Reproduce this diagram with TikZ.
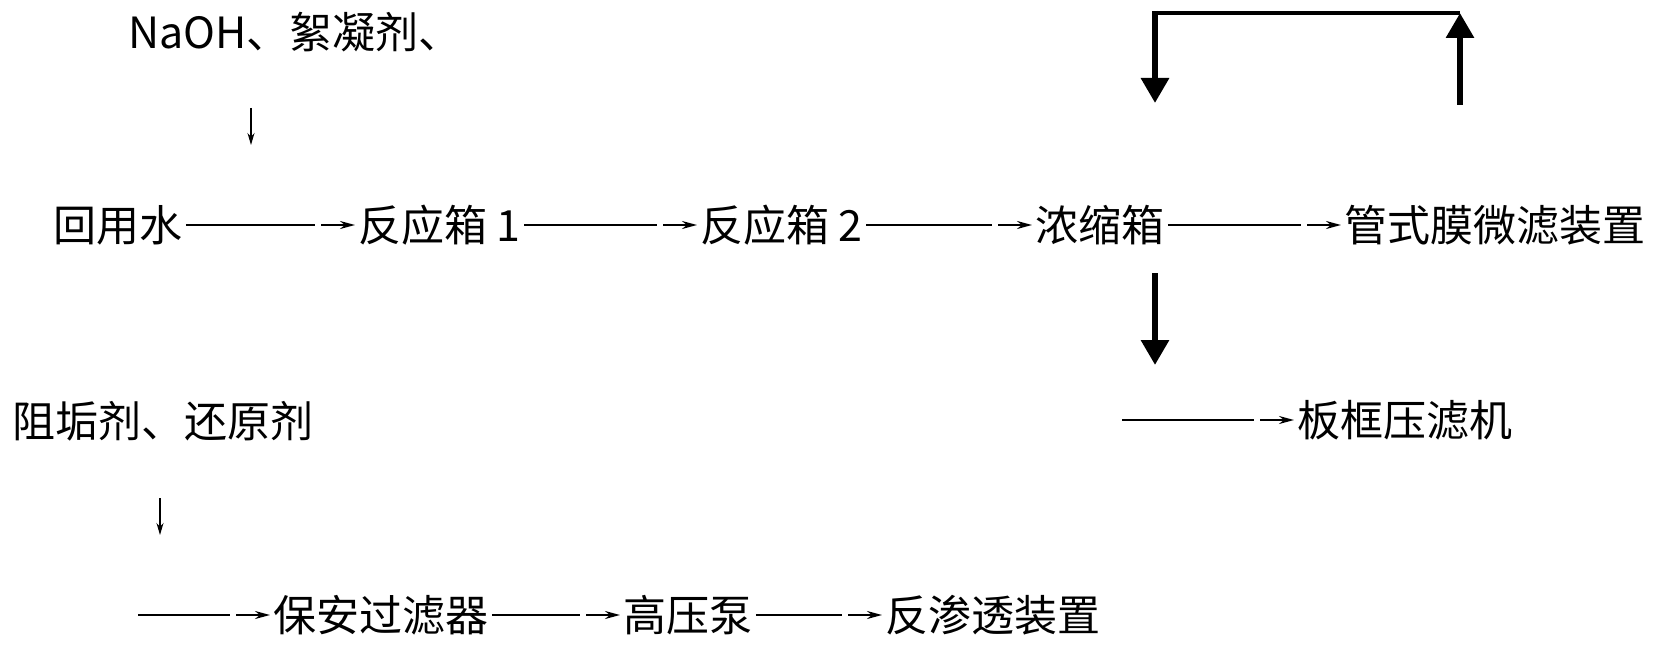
\documentclass[tikz,border=0pt]{standalone}
\usepackage{fontspec}
\setmainfont{Noto Sans CJK SC}
\usetikzlibrary{
  positioning,
  calc,
  arrows.meta}
\tikzset{
  %% unit : a text of the flow sheet
  unit/.style={
    anchor=west,
    inner xsep=1.5pt,
    inner ysep=0pt,
    font=\fontsize{21.5}{26}\selectfont
  },
  %% feedline : the long part of a flow line
  feedline/.style={
    line width=1pt,
    shorten >=20pt
  },
  %% feedtip : the short arrow just before a unit
  feedtip/.style={
    line width=1pt,
    -{Stealth[length=7.5pt, width=4pt]}
  },
  %% dose : small arrow below the chemicals
  dose/.style={
    line width=0.6pt,
    -{Stealth[length=6pt, width=3.5pt]}
  },
  %% sludge : thick arrows round the concentration tank
  sludge/.style={
    line width=3pt,
    -{Triangle[length=12.5pt, width=13.5pt]}
  },
  sludgeline/.style={line width=2pt}
}

\begin{document}
\begin{tikzpicture}
  [x=0.5pt,
  y=-0.5pt]

  \useasboundingbox (0,0) rectangle (1654,647);

  %% Chemicals
  \node (naoh) [unit] at (125,32) {NaOH、絮凝剂、};
  \coordinate (dose1a) at (251,108);
  \coordinate (dose1b) at (251,145);
  \draw [dose] (dose1a) -- (dose1b);

  %% Main row
  \node (water) [unit] at (50,225) {回用水};
  \node (react1) [unit] at (355,225) {反应箱 1};
  \node (react2) [unit] at (697,225) {反应箱 2};
  \node (conc) [unit] at (1032,225) {浓缩箱};
  \node (tube) [unit] at (1341,225) {管式膜微滤装置};

  \draw [feedline] (water) -- (react1);
  \draw [feedtip] ($(react1.west)-(34,0)$) -- (react1.west);
  \draw [feedline] (react1) -- (react2);
  \draw [feedtip] ($(react2.west)-(34,0)$) -- (react2.west);
  \draw [feedline] (react2) -- (conc);
  \draw [feedtip] ($(conc.west)-(34,0)$) -- (conc.west);
  \draw [feedline] (conc) -- (tube);
  \draw [feedtip] ($(tube.west)-(34,0)$) -- (tube.west);

  %% Return loop
  \coordinate (backup) at (1460,105);
  \coordinate (backright) at (1460,13);
  \coordinate (backleft) at (1155,13);
  \coordinate (backtop) at (1155,11);
  \coordinate (backdown) at (1155,103);
  \draw [sludge] (backup) -- (backright);
  \draw [sludgeline] (backright) -- (backleft);
  \draw [sludge] (backtop) -- (backdown);

  %% Sludge
  \coordinate (mudtop) at (1155,273);
  \coordinate (mudtip) at (1155,365);
  \draw [sludge] (mudtop) -- (mudtip);

  \node (press) [unit] at (1294,420) {板框压滤机};
  \coordinate (pressin) at (1122,420);
  \draw [feedline] (pressin) -- (press);
  \draw [feedtip] ($(press.west)-(34,0)$) -- (press.west);

  %% Reverse osmosis
  \node (anti) [unit] at (9,421) {阻垢剂、还原剂};
  \coordinate (dose2a) at (160,498);
  \coordinate (dose2b) at (160,535);
  \draw [dose] (dose2a) -- (dose2b);

  \node (guard) [unit] at (270,615) {保安过滤器};
  \node (pump) [unit] at (620,615) {高压泵};
  \node (ro) [unit] at (882,615) {反渗透装置};
  \coordinate (guardin) at (138,615);

  \draw [feedline] (guardin) -- (guard);
  \draw [feedtip] ($(guard.west)-(34,0)$) -- (guard.west);
  \draw [feedline] (guard) -- (pump);
  \draw [feedtip] ($(pump.west)-(34,0)$) -- (pump.west);
  \draw [feedline] (pump) -- (ro);
  \draw [feedtip] ($(ro.west)-(34,0)$) -- (ro.west);

\end{tikzpicture}
\end{document}
